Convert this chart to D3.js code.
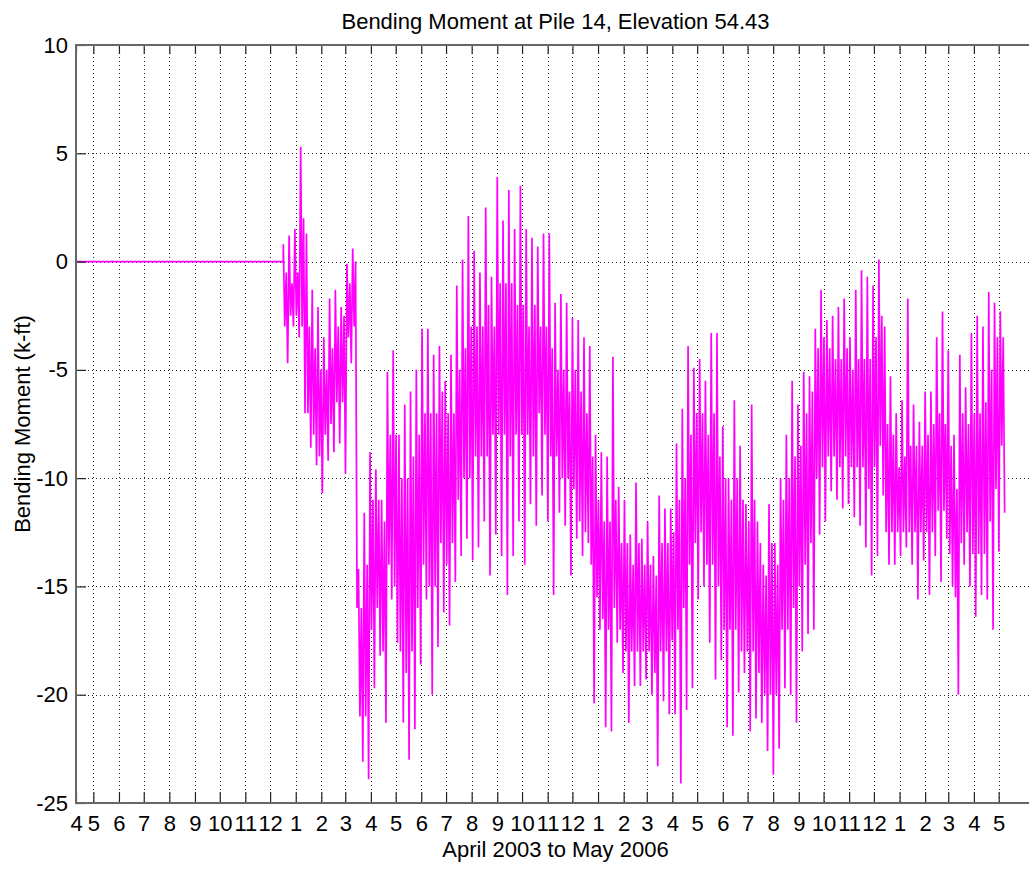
<!DOCTYPE html>
<html>
<head>
<meta charset="utf-8">
<script src="https://cdn.jsdelivr.net/npm/d3@7"></script>
<style>
  body { margin: 0; background: #fff; }
  text { font-family: Arial, "Liberation Sans", Helvetica, sans-serif; fill: #000; }
</style>
</head>
<body>
<svg id="chart" width="1029" height="869"></svg>
<script>
// ---- labels ----
const chartTitle = "Bending Moment at Pile 14, Elevation 54.43";
const xAxisLabel = "April 2003 to May 2006";
const yAxisLabel = "Bending Moment (k-ft)";

// ---- axis limits and ticks ----
const xStart = new Date(2003, 3, 10);
const xEnd = new Date(2006, 5, 14);
const yMin = -25, yMax = 10;
const yTickValues = [-25, -20, -15, -10, -5, 0, 5, 10];
const xTickDates = [xStart].concat(d3.timeMonth.range(new Date(2003, 4, 1), new Date(2006, 4, 2)));

// ---- gauge at rest (reads zero) before recording starts ----
const idleDates = [new Date(2003, 3, 10), new Date(2003, 11, 17)];
const idleValues = [0, 0];

// ---- recorded moment, summarised week by week from 17 Dec 2003 ----
// each week: highest peak, upper and lower edge of the dense band, deepest trough
const firstWeek = new Date(2003, 11, 17);
const weekHigh = [
  0.8, 1.2, 1.5, 5.3, 1.3, -1.3, -2.1, -3.5, -1.7, -1.3,
  -2.1, -0.1, 0.6, -14.2, -11.6, -8.8, -9.6, -11, -5.1, -4.1,
  -8, -6.6, -6, -5, -3.1, -3.1, -4.3, -3.9, -5.5, -4.3,
  -1.1, 0.1, 2.1, 0.5, -0.5, 2.5, -0.7, 3.9, 1.9, 3.3,
  1.5, 3.5, 1.5, 1.1, 0.7, 1.3, 1.3, -1.9, -1.5, -1.9,
  -2.6, -2.7, -3.5, -3.9, -8, -8.8, -9, -4.4, -10.4, -11,
  -12.6, -10.2, -12.8, -12, -13.6, -10.8, -11.4, -11.4, -8.4, -6.8,
  -3.9, -4.9, -4.5, -5.5, -3.3, -3.3, -7.6, -10, -6.4, -8.5,
  -11.2, -6.6, -12, -14, -11.2, -13, -10, -8, -5.5, -6.6,
  -5.1, -5.3, -3.1, -1.3, -2.7, -2.5, -2.1, -1.7, -3.5, -1.3,
  -0.4, -0.7, -1.1, 0.1, -3, -5.3, -7, -6.4, -1.7, -6.6,
  -7.4, -6, -6, -3.5, -2.3, -4.1, -8, -4.3, -5.8, -3.3,
  -2.5, -3, -1.4, -1.9, -2.3
];
const weekBandHigh = [
  -0.5, -1, -0.5, 2, -3, -4, -5, -5, -4, -3,
  -2.5, -1, 0, -16, -14, -11, -11, -12, -8, -8,
  -10, -10, -9, -8, -7, -7, -7, -6, -7, -7,
  -5, -4, -3, -3, -3, -2, -3, -1, -1, -1,
  -2, -2, -3, -2, -3, -3, -4, -5, -5, -6,
  -5, -6, -7, -9, -11, -12, -12, -11, -13, -13,
  -14, -13, -14, -14, -14.5, -13, -13, -12.5, -11, -10,
  -8, -7, -7, -8, -7, -9, -10, -11, -10, -11,
  -12, -11, -13, -14.5, -13, -14, -11, -10, -9, -8.5,
  -7, -6, -4, -3.5, -4, -4.5, -4.5, -4, -5, -4.5,
  -4.5, -4.5, -3.5, -2.5, -7.5, -8, -9.5, -9, -8.5, -8.5,
  -8.5, -8, -7.5, -7, -7.5, -8.5, -10.5, -7, -7.5, -7,
  -7, -6.5, -5, -3.5, -3.5
];
const weekBandLow = [
  -3, -2.5, -2.5, -3, -7, -8, -9, -8, -7.5, -6.5,
  -6.5, -3.5, -3, -21, -21, -17, -16, -18, -14, -15,
  -18, -19, -18, -16, -14, -15, -15, -13, -14, -13,
  -11, -10, -10, -9, -9, -9, -8, -8, -8, -9,
  -8, -8, -8, -9, -7, -8, -9, -9, -10, -10,
  -10.5, -12, -12.5, -14, -15.5, -16.5, -17, -16, -17, -18,
  -18, -18, -18, -18, -19, -18, -18, -17.5, -17, -16,
  -14, -13, -12.5, -14, -14, -15, -17, -17, -17, -18,
  -18, -18, -19, -20, -20, -20, -17, -17, -16, -15,
  -14, -13, -10, -9.5, -9, -9, -9.5, -9, -9.5, -9.5,
  -9.5, -10.5, -9.5, -8.5, -12.5, -12.5, -12.5, -12.5, -12.5, -12.5,
  -12.5, -12.5, -12.5, -11.5, -11.5, -13.5, -15.5, -13, -12.5, -13.5,
  -13.5, -13.5, -12, -10.5, -8.5
];
const weekLow = [
  -4.7, -3, -3.5, -7, -8.6, -9.4, -10.7, -9.2, -8.8, -8.4,
  -9.8, -4.7, -16, -23.1, -23.9, -19.7, -18.2, -21.3, -15.6, -17.6,
  -21.3, -23, -21.6, -18.6, -15.6, -20, -17.8, -16.2, -16.8, -14.8,
  -13.6, -12.8, -13.8, -13.2, -12, -14.5, -12.6, -13.6, -15.4, -13.6,
  -12, -14, -11.2, -12.2, -10.8, -12, -15.4, -11.6, -12.2, -14.5,
  -12.8, -13.6, -13, -20.4, -17, -21.5, -21.7, -17.6, -19, -21.3,
  -19.6, -19.6, -19.3, -20, -23.3, -20.3, -20.9, -20.9, -24.1, -20.7,
  -19.7, -15.6, -15, -17.6, -19.3, -18.4, -21.5, -21.9, -19.9, -19,
  -21.7, -21.1, -21.3, -22.6, -23.7, -22.5, -19.7, -20, -21.3, -18,
  -17.2, -17, -12.6, -12, -10.6, -11, -11.4, -11.2, -11.8, -12.2,
  -13.2, -14.5, -13.6, -10.8, -14, -14, -13.6, -13.2, -14, -15.6,
  -13.8, -15.4, -13.6, -14.8, -12.8, -15, -20, -14, -15, -16.4,
  -15.4, -15.6, -17, -13.4, -11.6
];

// ---- layout ----
const svg = d3.select("#chart");
const plotLeft = 76, plotRight = 1035, plotTop = 45, plotBottom = 803;

const x = d3.scaleTime().domain([xStart, xEnd]).range([plotLeft, plotRight]);
const y = d3.scaleLinear().domain([yMin, yMax]).range([plotBottom, plotTop]);

// ---- series assembly ----
const DAY = 86400000;
const points = idleDates.map((d, i) => [d, idleValues[i]]);
weekHigh.forEach((h, k) => {
  const t0 = firstWeek.getTime() + k * 7 * DAY;
  points.push([new Date(t0), h]);
  points.push([new Date(t0 + 1.75 * DAY), weekBandLow[k]]);
  points.push([new Date(t0 + 3.5 * DAY), weekBandHigh[k]]);
  points.push([new Date(t0 + 5.25 * DAY), weekLow[k]]);
});

// ---- dotted grid ----
const grid = svg.append("g").attr("stroke", "#222").attr("stroke-width", 1)
  .attr("stroke-dasharray", "1,3");
grid.selectAll("line.v").data(xTickDates.slice(1)).join("line")
  .attr("class", "v")
  .attr("x1", d => Math.round(x(d)) + 0.5).attr("x2", d => Math.round(x(d)) + 0.5)
  .attr("y1", plotTop).attr("y2", plotBottom);
grid.selectAll("line.h").data(yTickValues.filter(v => v > yMin && v < yMax)).join("line")
  .attr("class", "h")
  .attr("x1", plotLeft).attr("x2", plotRight)
  .attr("y1", d => Math.round(y(d)) + 0.5).attr("y2", d => Math.round(y(d)) + 0.5);

// ---- data line ----
svg.append("path")
  .datum(points)
  .attr("fill", "none")
  .attr("stroke", "#ff00ff")
  .attr("stroke-width", 1.7)
  .attr("stroke-linejoin", "bevel")
  .attr("d", d3.line().x(d => x(d[0])).y(d => y(d[1])));

// ---- axes (ticks point inward, box drawn separately) ----
const monthFmt = d3.timeFormat("%-m");
const xAxis = svg.append("g").attr("transform", `translate(0,${plotBottom})`)
  .call(d3.axisBottom(x).tickValues(xTickDates).tickFormat(monthFmt)
    .tickSizeInner(-11).tickSizeOuter(0).tickPadding(12));
const xTopAxis = svg.append("g").attr("transform", `translate(0,${plotTop})`)
  .call(d3.axisTop(x).tickValues(xTickDates).tickFormat("")
    .tickSizeInner(-9).tickSizeOuter(0));
const yAxis = svg.append("g").attr("transform", `translate(${plotLeft},0)`)
  .call(d3.axisLeft(y).tickValues(yTickValues).tickFormat(d => String(d))
    .tickSizeInner(-10).tickSizeOuter(0).tickPadding(8));

[xAxis, xTopAxis, yAxis].forEach(g => {
  g.select(".domain").remove();
  g.selectAll(".tick line").attr("stroke", "#222").attr("stroke-width", 1.2);
  g.selectAll(".tick text").attr("font-size", 22).attr("fill", "#000")
    .style("font-family", 'Arial, "Liberation Sans", Helvetica, sans-serif');
});

svg.append("rect")
  .attr("x", plotLeft).attr("y", plotTop)
  .attr("width", plotRight - plotLeft).attr("height", plotBottom - plotTop)
  .attr("fill", "none").attr("stroke", "#676767").attr("stroke-width", 2);

// ---- titles ----
svg.append("text")
  .attr("x", (plotLeft + plotRight) / 2).attr("y", 28.5)
  .attr("text-anchor", "middle").attr("font-size", 22)
  .text(chartTitle);
svg.append("text")
  .attr("x", (plotLeft + plotRight) / 2).attr("y", 857)
  .attr("text-anchor", "middle").attr("font-size", 22)
  .text(xAxisLabel);
svg.append("text")
  .attr("transform", `translate(30,${(plotTop + plotBottom) / 2}) rotate(-90)`)
  .attr("text-anchor", "middle").attr("font-size", 22)
  .text(yAxisLabel);
</script>
</body>
</html>
